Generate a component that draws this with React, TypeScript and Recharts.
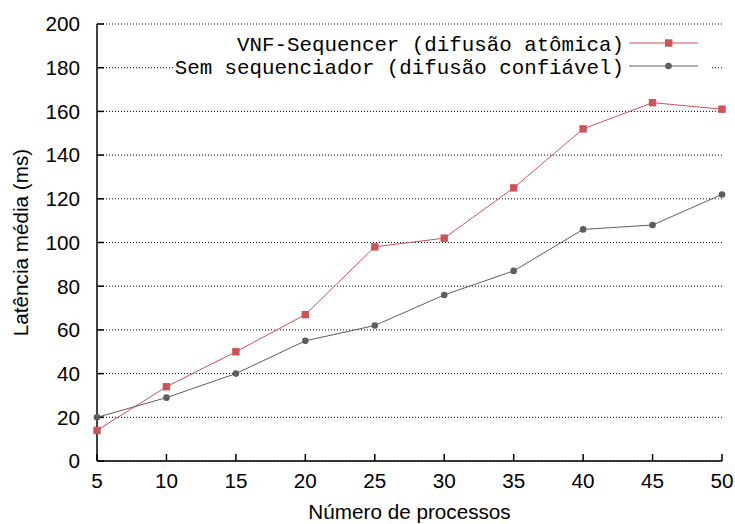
import { CartesianGrid, Line, LineChart, XAxis, YAxis } from "recharts";

const processos = [5, 10, 15, 20, 25, 30, 35, 40, 45, 50];
const vnfSequencer = [14, 34, 50, 67, 98, 102, 125, 152, 164, 161];
const semSequenciador = [20, 29, 40, 55, 62, 76, 87, 106, 108, 122];
const yTicks = [0, 20, 40, 60, 80, 100, 120, 140, 160, 180, 200];

const RED = "#cf5257";
const GRAY = "#5e5e5e";
const SANS = "'Liberation Sans', Arial, Helvetica, sans-serif";
const MONO = "'Liberation Mono', 'Courier New', monospace";

const data = processos.map((p, i) => ({
  p,
  vnf: vnfSequencer[i],
  sem: semSequenciador[i]
}));

const Square = (props: any) => {
  const { cx, cy } = props;
  if (cx == null || cy == null) return null;
  return <rect x={cx - 3.7} y={cy - 3.7} width={7.4} height={7.4} fill={RED} />;
};

const Dot = (props: any) => {
  const { cx, cy } = props;
  if (cx == null || cy == null) return null;
  return <circle cx={cx} cy={cy} r={3.3} fill={GRAY} />;
};

function Key() {
  return (
    <svg width={735} height={524} style={{ position: "absolute", left: 0, top: 0, pointerEvents: "none" }}>
      <rect x={174} y={31} width={537} height={46} fill="#fff" />
      <text x={624} y={51} textAnchor="end" fontFamily={MONO} fontSize={20.8} fill="#000">
        VNF-Sequencer (difusão atômica)
      </text>
      <line x1={629} x2={698} y1={43} y2={43} stroke={RED} strokeWidth={1} />
      <rect x={665} y={39.3} width={7.4} height={7.4} fill={RED} />
      <text x={624} y={74} textAnchor="end" fontFamily={MONO} fontSize={20.8} fill="#000">
        Sem sequenciador (difusão confiável)
      </text>
      <line x1={629} x2={698} y1={66} y2={66} stroke={GRAY} strokeWidth={1} />
      <circle cx={668.5} cy={66} r={3.3} fill={GRAY} />
    </svg>
  );
}

export default function App() {
  return (
    <div style={{ position: "absolute", left: 0, top: 0, width: 735, height: 524, background: "#fff" }}>
      <LineChart width={735} height={524} data={data} margin={{ top: 24, right: 13, bottom: 0, left: 0 }}>
        <CartesianGrid vertical={false} stroke="#000" strokeDasharray="1 2" strokeWidth={1} />
        <XAxis
          dataKey="p"
          type="number"
          domain={[5, 50]}
          ticks={processos}
          height={63}
          stroke="#000"
          strokeWidth={1.5}
          tickSize={-7}
          tickMargin={19}
          tick={{ fill: "#000", fontSize: 20.7, fontFamily: SANS }}
          label={{
            content: ({ viewBox }: any) => (
              <text
                x={viewBox.x + viewBox.width / 2}
                y={519}
                textAnchor="middle"
                fontFamily={SANS}
                fontSize={20.7}
                fill="#000"
              >
                Número de processos
              </text>
            )
          }}
        />
        <XAxis
          xAxisId="top"
          orientation="top"
          dataKey="p"
          type="number"
          domain={[5, 50]}
          ticks={processos}
          height={0}
          stroke="#000"
          strokeWidth={1.5}
          tickSize={-7}
          tick={false}
        />
        <YAxis
          type="number"
          domain={[0, 200]}
          ticks={yTicks}
          width={97}
          stroke="#000"
          strokeWidth={1.5}
          tickSize={-7}
          tickMargin={24}
          tick={{ fill: "#000", fontSize: 20.7, fontFamily: SANS }}
          label={{
            content: ({ viewBox }: any) => {
              const cy = viewBox.y + viewBox.height / 2;
              return (
                <text
                  x={28}
                  y={cy}
                  transform={`rotate(-90 28 ${cy})`}
                  textAnchor="middle"
                  fontFamily={SANS}
                  fontSize={20.7}
                  fill="#000"
                >
                  Latência média (ms)
                </text>
              );
            }
          }}
        />
        <YAxis
          yAxisId="right"
          orientation="right"
          type="number"
          domain={[0, 200]}
          ticks={yTicks}
          width={0}
          stroke="#000"
          strokeWidth={1.5}
          tickSize={-7}
          tick={false}
        />
        <Line
          dataKey="vnf"
          stroke={RED}
          strokeWidth={1}
          dot={<Square />}
          isAnimationActive={false}
        />
        <Line
          dataKey="sem"
          stroke={GRAY}
          strokeWidth={1}
          dot={<Dot />}
          isAnimationActive={false}
        />
      </LineChart>
      <Key />
    </div>
  );
}
